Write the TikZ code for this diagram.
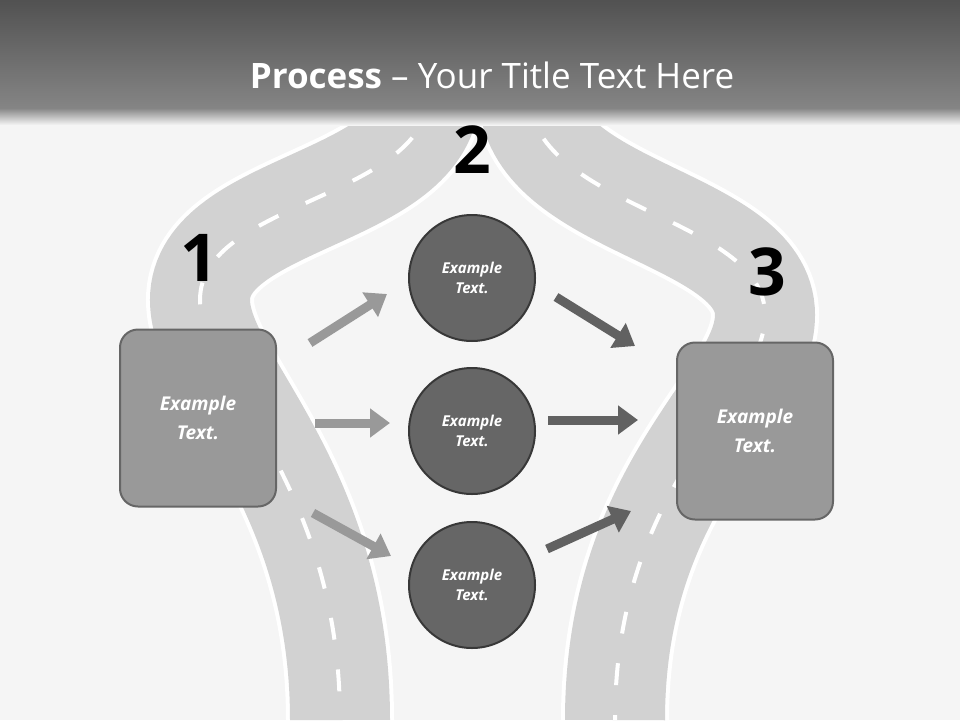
\documentclass[tikz,border=0pt]{standalone}
\usepackage{fontspec}
\setmainfont{Open Sans}
\usetikzlibrary{arrows.meta}
\definecolor{bg}{HTML}{F5F5F5}
\definecolor{road}{HTML}{D2D2D2}
\tikzset{
 roadedge/.style={line width=108pt,white},
 roadbody/.style={line width=100pt,road},
 roadmid/.style={line width=4pt,white,dash pattern=on 22pt off 30pt},
 circ/.style={circle,minimum size=126pt,fill=black!60,draw=black!78,line width=2pt,text=white,font=\bfseries\itshape\fontsize{15}{20}\selectfont,align=center},
 box/.style={rounded corners=18pt,fill=black!40,draw=black!60,line width=2pt,text=white,font=\bfseries\itshape\fontsize{19}{29}\selectfont,align=center,minimum width=156pt,minimum height=177pt},
 num/.style={font=\bfseries\fontsize{66}{70}\selectfont},
 larr/.style={line width=9pt,black!40,-{Triangle[length=20pt,width=28pt]}},
 darr/.style={line width=9pt,black!62,-{Triangle[length=20pt,width=28pt]}},
}
\begin{document}
\begin{tikzpicture}[x=1pt,y=-1pt]
\fill[bg] (0,0) rectangle (960,720);
\useasboundingbox (0,0) rectangle (960,720);
% roads
\def\lroad{(430,90) .. controls (430,200) and (200,200) .. (200,300) .. controls (200,380) and (340,480) .. (340,720)}
\def\rroad{(528,90) .. controls (528,210) and (765,215) .. (765,315) .. controls (765,400) and (615,480) .. (615,720)}
\draw[roadedge] \lroad; \draw[roadedge] \rroad;
\draw[roadbody] \lroad; \draw[roadbody] \rroad;
\draw[roadmid] \lroad; \draw[roadmid] \rroad;
% header
\shade[top color=black!68,bottom color=black!48] (0,0) rectangle (960,108);
\shade[top color=black!48,bottom color=bg] (0,108) rectangle (960,125);
\node[text=white,font=\fontsize{35}{42}\selectfont] (title) at (492,75) {\textbf{Process} – Your Title Text Here};
% numbers
\node[num] (n1) at (199,258) {1};
\node[num] (n2) at (472,150) {2};
\node[num] (n3) at (767,272) {3};
% shapes
\node[circ] (c1) at (472,278) {Example\\Text.};
\node[circ] (c2) at (472,431) {Example\\Text.};
\node[circ] (c3) at (472,585) {Example\\Text.};
\node[box] (b1) at (198,418) {Example\\Text.};
\node[box] (b2) at (755,431) {Example\\Text.};
% arrows
\coordinate (a1s) at (310,343); \coordinate (a1e) at (387,294);
\coordinate (a2s) at (315,423); \coordinate (a2e) at (390,423);
\coordinate (a3s) at (313,513); \coordinate (a3e) at (391,556);
\coordinate (d1s) at (556,297); \coordinate (d1e) at (635,346);
\coordinate (d2s) at (548,420); \coordinate (d2e) at (638,420);
\coordinate (d3s) at (547,549); \coordinate (d3e) at (631,511);
\draw[larr] (a1s) -- (a1e); \draw[larr] (a2s) -- (a2e); \draw[larr] (a3s) -- (a3e);
\draw[darr] (d1s) -- (d1e); \draw[darr] (d2s) -- (d2e); \draw[darr] (d3s) -- (d3e);
\end{tikzpicture}
\end{document}
